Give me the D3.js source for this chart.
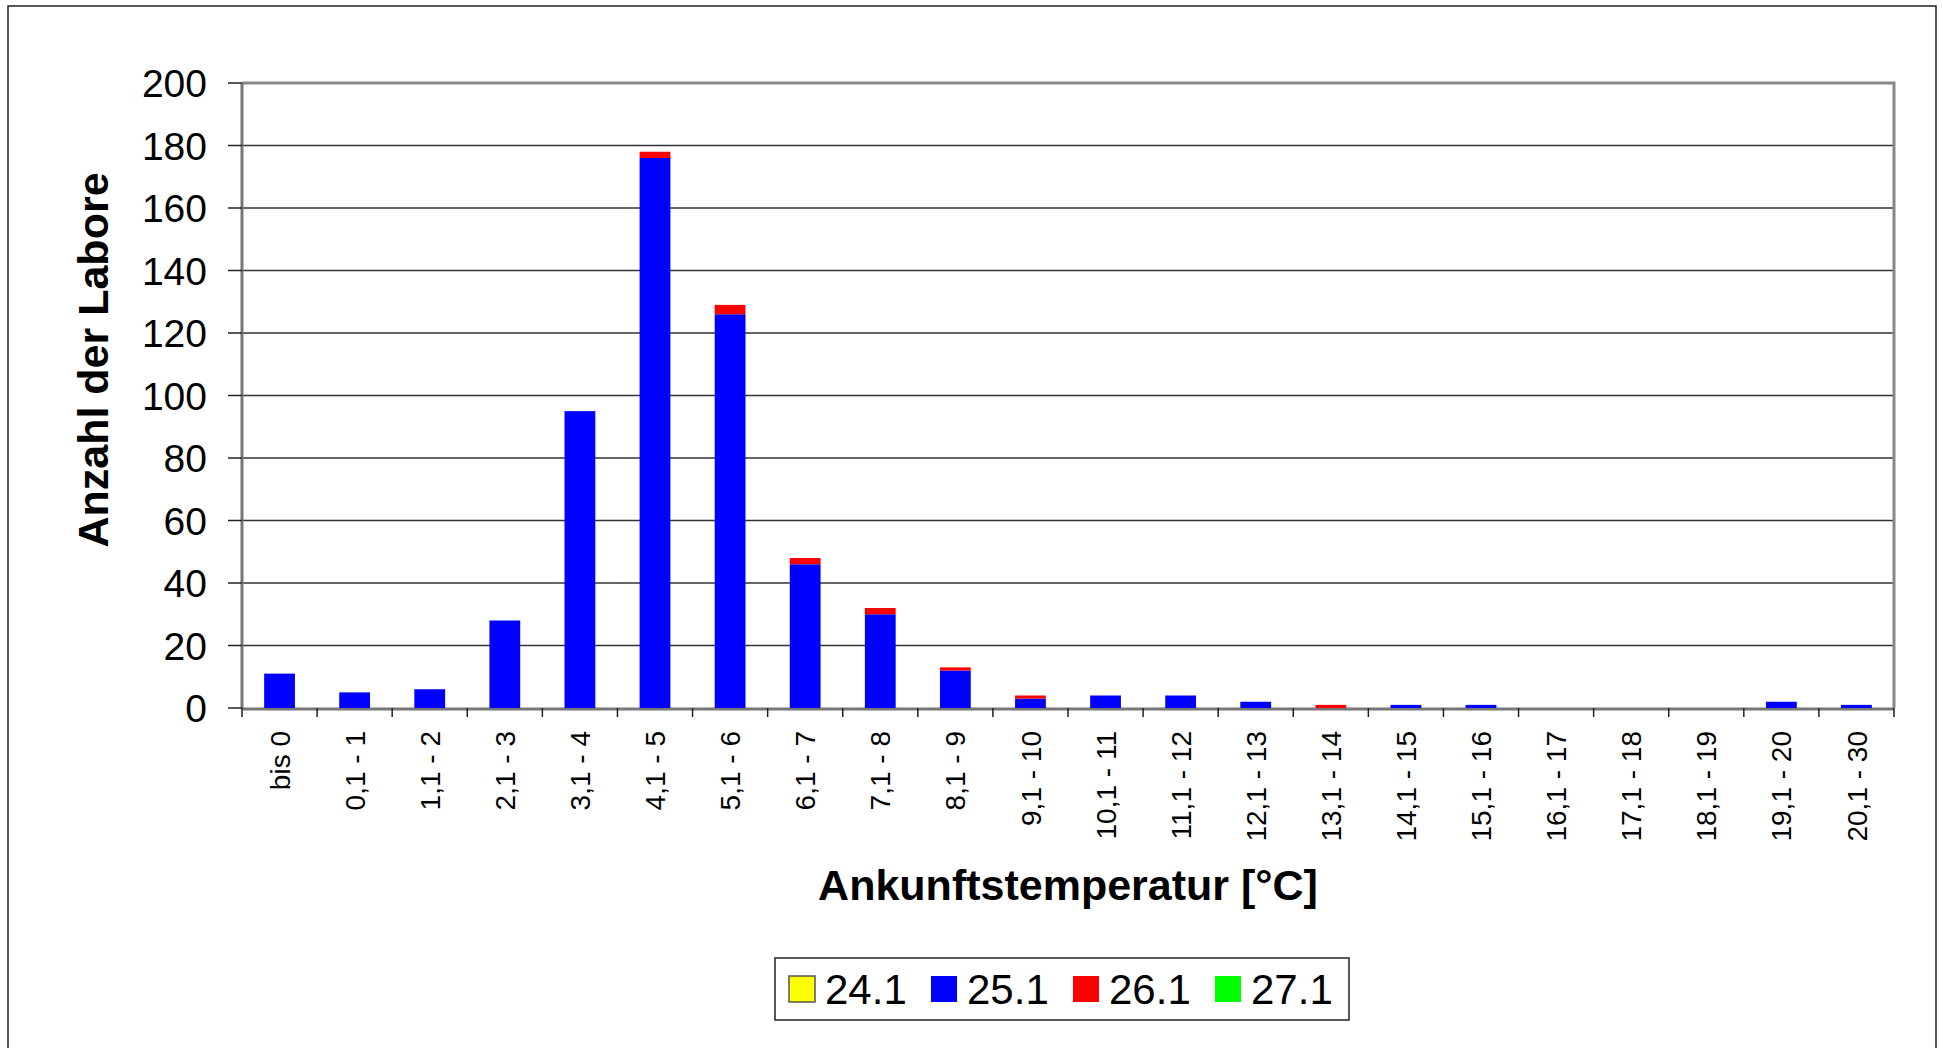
<!DOCTYPE html>
<html lang="de">
<head>
  <meta charset="UTF-8">
  <title>Ankunftstemperatur</title>
  <script src="https://d3js.org/d3.v7.min.js"></script>
  <style>
    body {
      margin: 0;
      background: #fff;
      font-family: "Liberation Sans", Arial, sans-serif;
    }
    .grid line {
      stroke: #333;
      stroke-width: 1.5px;
    }
    .ytick text { font-size: 39px; fill: #000; }
    .xtick text { font-size: 28px; fill: #000; }
    .title { font-size: 43px; font-weight: bold; fill: #000; }
    .legend text { font-size: 42px; fill: #000; }
  </style>
</head>
<body>
  <svg id="chart" width="1943" height="1048"></svg>

  <script>
    // categories (Ankunftstemperatur in °C)
    const categories = ["bis 0", "0,1 - 1", "1,1 - 2", "2,1 - 3", "3,1 - 4", "4,1 - 5",
      "5,1 - 6", "6,1 - 7", "7,1 - 8", "8,1 - 9", "9,1 - 10", "10,1 - 11", "11,1 - 12",
      "12,1 - 13", "13,1 - 14", "14,1 - 15", "15,1 - 16", "16,1 - 17", "17,1 - 18",
      "18,1 - 19", "19,1 - 20", "20,1 - 30"];

    // one array per series
    const s241 = [0, 0, 0, 0, 0, 0, 0, 0, 0, 0, 0, 0, 0, 0, 0, 0, 0, 0, 0, 0, 0, 0];
    const s251 = [11, 5, 6, 28, 95, 176, 126, 46, 30, 12, 3, 4, 4, 2, 0, 1, 1, 0, 0, 0, 2, 1];
    const s261 = [0, 0, 0, 0, 0, 2, 3, 2, 2, 1, 1, 0, 0, 0, 1, 0, 0, 0, 0, 0, 0, 0];
    const s271 = [0, 0, 0, 0, 0, 0, 0, 0, 0, 0, 0, 0, 0, 0, 0, 0, 0, 0, 0, 0, 0, 0];

    const seriesNames = ["24.1", "25.1", "26.1", "27.1"];
    const seriesColors = ["#ffff00", "#0000ff", "#ff0000", "#00ff00"];
    const yTicks = [0, 20, 40, 60, 80, 100, 120, 140, 160, 180, 200];

    // table for d3.stack
    const rows = categories.map((c, i) => ({
      cat: c, "24.1": s241[i], "25.1": s251[i], "26.1": s261[i], "27.1": s271[i]
    }));

    const svg = d3.select("#chart");
    const plot = {left: 242, right: 1894, top: 83, bottom: 708};

    // outer chart frame
    svg.append("rect")
      .attr("x", 8).attr("y", 6)
      .attr("width", 1928).attr("height", 1080)
      .attr("fill", "none").attr("stroke", "#222").attr("stroke-width", 1.5);

    const x = d3.scaleBand()
      .domain(categories)
      .range([plot.left, plot.right])
      .paddingInner(0.59)
      .paddingOuter(0.295);

    const xEdge = d3.scaleLinear()
      .domain([0, categories.length])
      .range([plot.left, plot.right]);

    const y = d3.scaleLinear()
      .domain([0, 200])
      .range([plot.bottom, plot.top]);

    // horizontal gridlines
    svg.append("g").attr("class", "grid")
      .selectAll("line")
      .data(yTicks.filter(d => d > 0 && d < 200))
      .enter().append("line")
      .attr("x1", plot.left).attr("x2", plot.right)
      .attr("y1", d => y(d)).attr("y2", d => y(d));

    // plot area frame (top and right), gray like the axes
    svg.append("path")
      .attr("d", `M${plot.left},${plot.top}H${plot.right}V${plot.bottom}`)
      .attr("fill", "none").attr("stroke", "#888").attr("stroke-width", 3);

    // y axis
    const yAxis = svg.append("g").attr("class", "ytick");
    yAxis.append("line")
      .attr("x1", plot.left).attr("x2", plot.left)
      .attr("y1", plot.top).attr("y2", plot.bottom)
      .attr("stroke", "#777").attr("stroke-width", 3);
    const yt = yAxis.selectAll("g.t").data(yTicks).enter().append("g").attr("class", "t");
    yt.append("line")
      .attr("x1", plot.left - 14).attr("x2", plot.left)
      .attr("y1", d => y(d)).attr("y2", d => y(d))
      .attr("stroke", "#222").attr("stroke-width", 1.5);
    yt.append("text")
      .attr("x", 207).attr("y", d => y(d))
      .attr("dy", "0.36em")
      .attr("text-anchor", "end")
      .text(d => d);

    // x axis
    const xAxis = svg.append("g").attr("class", "xtick");
    xAxis.append("line")
      .attr("x1", plot.left).attr("x2", plot.right)
      .attr("y1", plot.bottom + 1).attr("y2", plot.bottom + 1)
      .attr("stroke", "#777").attr("stroke-width", 3);
    xAxis.selectAll("line.tk")
      .data(d3.range(categories.length + 1))
      .enter().append("line").attr("class", "tk")
      .attr("x1", d => xEdge(d)).attr("x2", d => xEdge(d))
      .attr("y1", plot.bottom).attr("y2", plot.bottom + 9)
      .attr("stroke", "#222").attr("stroke-width", 1.5);
    xAxis.selectAll("text")
      .data(categories)
      .enter().append("text")
      .attr("transform", d => `translate(${x(d) + x.bandwidth() / 2},731) rotate(-90)`)
      .attr("dy", "0.36em")
      .attr("text-anchor", "end")
      .text(d => d);

    // stacked bars (drawn over the axis line)
    const stacked = d3.stack().keys(seriesNames)(rows);
    svg.append("g")
      .selectAll("g")
      .data(stacked)
      .enter().append("g")
      .attr("fill", (d, i) => seriesColors[i])
      .selectAll("rect")
      .data(d => d.filter(p => p[1] > p[0]))
      .enter().append("rect")
      .attr("x", d => x(d.data.cat))
      .attr("width", x.bandwidth())
      .attr("y", d => y(d[1]))
      .attr("height", d => y(d[0]) - y(d[1]));

    // axis titles
    svg.append("text").attr("class", "title")
      .attr("transform", "translate(93,360) rotate(-90)")
      .attr("dy", "0.36em")
      .attr("text-anchor", "middle")
      .text("Anzahl der Labore");
    svg.append("text").attr("class", "title")
      .attr("x", (plot.left + plot.right) / 2).attr("y", 885)
      .attr("dy", "0.36em")
      .attr("text-anchor", "middle")
      .text("Ankunftstemperatur [°C]");

    // legend
    const legend = svg.append("g").attr("class", "legend");
    legend.append("rect")
      .attr("x", 775).attr("y", 958)
      .attr("width", 574).attr("height", 62)
      .attr("fill", "#fff").attr("stroke", "#222").attr("stroke-width", 1.5);
    const item = legend.selectAll("g.item")
      .data(seriesNames)
      .enter().append("g").attr("class", "item")
      .attr("transform", (d, i) => `translate(${789 + i * 142},976)`);
    item.append("rect")
      .attr("width", 26).attr("height", 26)
      .attr("fill", (d, i) => seriesColors[i])
      .attr("stroke", (d, i) => i === 0 ? "#555" : "none")
      .attr("stroke-width", 1.5);
    item.append("text")
      .attr("x", 36).attr("y", 13)
      .attr("dy", "0.36em")
      .text(d => d);
  </script>
</body>
</html>
